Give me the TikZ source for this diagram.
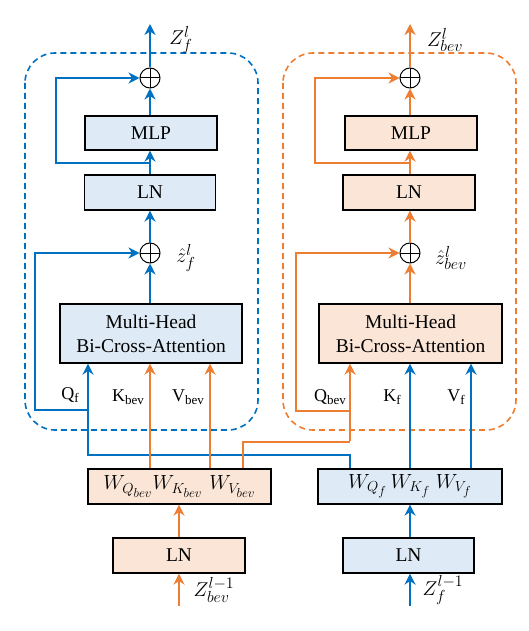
\RequirePackage{fix-cm}
\documentclass[tikz,border=0pt]{standalone}
\usepackage{fontspec}
\setmainfont{Liberation Serif}
\usetikzlibrary{arrows.meta}
\DeclareMathSizes{20}{20}{16}{12}
\DeclareMathSizes{20.5}{20.5}{14.5}{13}
\definecolor{cb}{HTML}{0070C0}
\definecolor{co}{HTML}{ED7D31}
\definecolor{fb}{HTML}{DEEBF7}
\definecolor{fo}{HTML}{FBE5D6}
\begin{document}
\begin{tikzpicture}[x=1pt,y=-1pt,
  box/.style={draw=black, line width=1.2pt, inner sep=0pt, align=center,
    font=\fontsize{19.5}{24}\selectfont},
  bbox/.style={box, fill=fb},
  obox/.style={box, fill=fo},
  wfont/.style={font=\fontsize{20.5}{24}\selectfont},
  plusnode/.style={circle, draw=black, line width=1pt, minimum size=20pt, inner sep=0pt,
    path picture={\draw[line width=1pt] (path picture bounding box.north) -- (path picture bounding box.south)
      (path picture bounding box.west) -- (path picture bounding box.east);}},
  thk/.style={line width=2.6pt},
  thn/.style={line width=1.6pt},
  arr/.style={-{Stealth[length=11pt,width=11pt,inset=3.5pt]}},
  lbl/.style={font=\fontsize{18}{20}\selectfont, inner sep=0pt},
  mlbl/.style={font=\fontsize{20}{22}\selectfont, inner sep=0pt},
  dbox/.style={line width=1.6pt, dash pattern=on 6pt off 4pt, rounded corners=30pt}
]
\useasboundingbox (0,0) rectangle (528,631);

% dashed frames
\draw[dbox, cb] (25,53) rectangle (258,430);
\draw[dbox, co] (283,53) rectangle (516,430);

% ---- blue column boxes
\node[bbox, minimum width=132pt, minimum height=34pt] (bmlp) at (151,133) {MLP};
\node[bbox, minimum width=131pt, minimum height=35pt] (bln) at (150,192.5) {LN};
\node[bbox, minimum width=182pt, minimum height=59pt] (bmh) at (151,333.5) {Multi-Head\\Bi-Cross-Attention};
\node[plusnode] (bp1) at (150,78) {};
\node[plusnode] (bp2) at (150,253) {};

% ---- orange column boxes
\node[obox, minimum width=132pt, minimum height=34pt] (omlp) at (411,133) {MLP};
\node[obox, minimum width=132pt, minimum height=35pt] (oln) at (409,192.5) {LN};
\node[obox, minimum width=183pt, minimum height=59pt] (omh) at (410.5,333.5) {Multi-Head\\Bi-Cross-Attention};
\node[plusnode] (op1) at (410,78) {};
\node[plusnode] (op2) at (410,253) {};

% ---- bottom boxes
\node[obox, wfont, minimum width=183pt, minimum height=35pt] (ow) at (179.5,486.5) {$W_{Q_{bev}}W_{K_{bev}}\,\,W_{V_{bev}}$};
\node[bbox, wfont, minimum width=184pt, minimum height=35pt] (bw) at (410,486.5) {$W_{Q_f}\,W_{K_f}\;W_{V_f}$};
\node[obox, minimum width=132pt, minimum height=35pt] (olnb) at (179,555.5) {LN};
\node[bbox, minimum width=131pt, minimum height=35pt] (blnb) at (408.5,555.5) {LN};

% coordinates
\coordinate (bout) at (150,24);
\coordinate (oout) at (410,24);
\coordinate (bin) at (179,606);
\coordinate (oin) at (408.5,606);

% ================= blue connectors
\draw[cb, thk, arr] (bp1.north) -- (bout);
\draw[cb, thk, arr] (bmlp.north -| bp1) -- (bp1.south);
\draw[cb, thk, arr] (bln.north) -- (bmlp.south -| bln);
\draw[cb, thk, arr] (bp2.north) -- (bln.south);
\draw[cb, thk, arr] (bmh.north -| bp2) -- (bp2.south);
% skip 1
\draw[cb, thn] (150,163) -- (56,163);
\draw[cb, thk, arr] (56,164) -- (56,78) -- (bp1.west);
% skip 2
\draw[cb, thn] (88,410) -- (35,410);
\draw[cb, thk, arr] (35,411) -- (35,253) -- (bp2.west);
% Q_f path
\draw[cb, thn] (bw.north -| 350,0) -- (350,455) -- (88,455);
\draw[cb, thk, arr] (88,456) -- (bmh.south -| 88,0);
% K_f, V_f
\draw[cb, thk, arr] (bw.north -| 410,0) -- (omh.south -| 410,0);
\draw[cb, thk, arr] (bw.north -| 471,0) -- (omh.south -| 471,0);
% bottom
\draw[cb, thk, arr] (blnb.north -| bw) -- (bw.south);
\draw[cb, thk, arr] (oin -| bw) -- (blnb.south -| bw);

% ================= orange connectors
\draw[co, thk, arr] (op1.north) -- (oout);
\draw[co, thk, arr] (omlp.north -| op1) -- (op1.south);
\draw[co, thk, arr] (oln.north -| op1) -- (omlp.south -| op1);
\draw[co, thk, arr] (op2.north) -- (oln.south -| op2);
\draw[co, thk, arr] (omh.north -| op2) -- (op2.south);
% skip 1
\draw[co, thn] (410,163) -- (315,163);
\draw[co, thk, arr] (315,164) -- (315,78) -- (op1.west);
% skip 2
\draw[co, thn] (350,411) -- (296,411);
\draw[co, thk, arr] (296,412) -- (296,253) -- (op2.west);
% Q_bev path
\draw[co, thn] (ow.north -| 243,0) -- (243,442) -- (350,442);
\draw[co, thk, arr] (350,441) -- (omh.south -| 350,0);
% K_bev, V_bev
\draw[co, thk, arr] (ow.north -| 150,0) -- (bmh.south -| 150,0);
\draw[co, thk, arr] (ow.north -| 210,0) -- (bmh.south -| 210,0);
% bottom
\draw[co, thk, arr] (olnb.north) -- (ow.south -| olnb);
\draw[co, thk, arr] (bin) -- (olnb.south);

% ================= labels
\node[mlbl] (lzf) at (181,40) {$Z_f^l$};
\node[mlbl] (lzb) at (445,40) {$Z_{bev}^l$};
\node[mlbl] (lhf) at (186,258) {$\hat{z}_f^l$};
\node[mlbl] (lhb) at (451,258) {$\hat{z}_{bev}^l$};
\node[mlbl] (lzb1) at (214,590) {$Z_{bev}^{l-1}$};
\node[mlbl] (lzf1) at (443,590) {$Z_f^{l-1}$};

\node[lbl] (qf) at (70,395) {Q\raisebox{-3pt}{\fontsize{13}{13}\selectfont f}};
\node[lbl] (kb) at (128,397) {K\raisebox{-3pt}{\fontsize{13}{13}\selectfont bev}};
\node[lbl] (vb) at (188,397) {V\raisebox{-3pt}{\fontsize{13}{13}\selectfont bev}};
\node[lbl] (qb) at (330,397) {Q\raisebox{-3pt}{\fontsize{13}{13}\selectfont bev}};
\node[lbl] (kf) at (392,397) {K\raisebox{-3pt}{\fontsize{13}{13}\selectfont f}};
\node[lbl] (vf) at (456,397) {V\raisebox{-3pt}{\fontsize{13}{13}\selectfont f}};
\end{tikzpicture}
\end{document}
